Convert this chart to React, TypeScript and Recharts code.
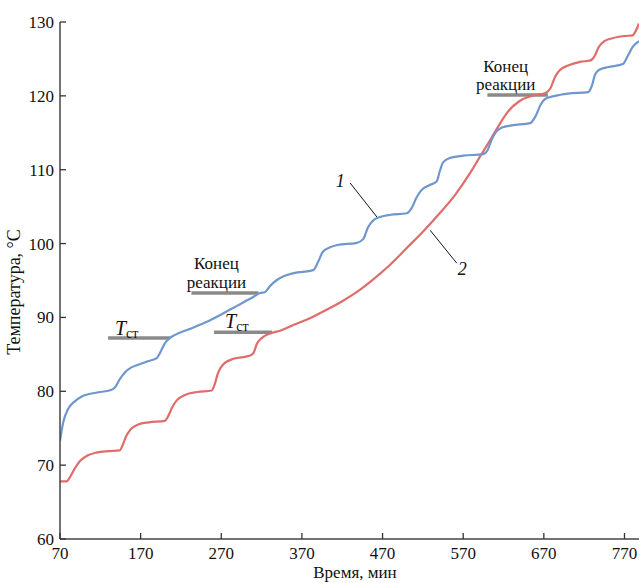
import React from 'react';
import { LineChart, Line, XAxis, YAxis, ReferenceLine, ReferenceDot, Label } from 'recharts';

// Curve 1 (blue)
const blueX = [70, 74, 80, 88, 97, 105, 120, 134, 138, 144, 151, 158, 167, 180, 190, 194, 200, 206, 212, 230, 250, 270, 290, 310, 318, 324, 330, 338, 348, 360, 384, 390, 396, 405, 414, 438, 446, 452, 458, 467, 480, 500, 506, 512, 518, 528, 537, 541, 545, 554, 570, 595, 600, 605, 610, 618, 630, 653, 660, 666, 672, 684, 700, 725, 729, 734, 740, 750, 768, 774, 780, 788];
const blueY = [73.3, 75.8, 77.6, 78.6, 79.3, 79.6, 79.9, 80.2, 80.5, 81.6, 82.6, 83.2, 83.6, 84.1, 84.5, 85.2, 86.5, 87.2, 87.6, 88.4, 89.3, 90.4, 91.6, 92.8, 93.3, 93.4, 94.2, 95.0, 95.6, 96.0, 96.4, 97.5, 98.9, 99.5, 99.8, 100.1, 100.6, 102.2, 103.1, 103.6, 103.9, 104.1, 104.8, 106.2, 107.2, 107.9, 108.4, 109.8, 111.0, 111.6, 111.9, 112.1, 112.6, 114.0, 115.0, 115.7, 116.0, 116.3, 117.3, 118.8, 119.6, 120.0, 120.3, 120.5, 121.2, 123.0, 123.6, 123.9, 124.3, 125.4, 126.6, 127.4];

// Curve 2 (red)
const redX = [70, 78, 82, 88, 95, 104, 115, 130, 144, 148, 152, 158, 167, 180, 200, 204, 209, 215, 225, 240, 258, 262, 266, 272, 285, 305, 310, 314, 320, 330, 343, 360, 380, 400, 420, 440, 460, 480, 500, 520, 540, 560, 580, 591, 600, 612, 625, 640, 655, 672, 678, 684, 690, 700, 715, 728, 733, 738, 745, 755, 770, 780, 784, 788];
const redY = [67.8, 67.8, 68.3, 69.5, 70.6, 71.3, 71.7, 71.9, 72.0, 72.8, 73.9, 74.9, 75.5, 75.8, 76.0, 76.6, 77.8, 78.8, 79.5, 79.9, 80.1, 81.0, 82.5, 83.6, 84.4, 84.8, 85.2, 86.4, 87.2, 87.8, 88.2, 89.0, 89.9, 91.0, 92.2, 93.6, 95.3, 97.2, 99.4, 101.6, 104.0, 106.6, 109.8, 111.8, 113.4, 115.6, 117.8, 119.3, 120.0, 120.4, 121.0, 122.6, 123.5, 124.1, 124.6, 124.8, 125.4, 126.6, 127.4, 127.8, 128.1, 128.2, 128.8, 129.8];

const xTicks = [70, 170, 270, 370, 470, 570, 670, 770];
const yTicks = [60, 70, 80, 90, 100, 110, 120, 130];

// Gray marker bars: [x1, x2, y]
const markerBars = [
  [129.6, 206.5, 87.2],
  [261, 333, 88.0],
  [233, 316, 93.3],
  [600, 675, 120.1],
];

// T_ст labels: [x, y(baseline)]
const tstLabels = [
  [138.2, 87.6],
  [274.7, 88.6],
];

// "Конец реакции" labels: [xCenter, yLine1, yLine2]
const endLabels = [
  [264, 96.5, 93.95],
  [622.7, 123.2, 120.75],
];

// Curve number labels: [text, x, y, leaderX1, leaderY1, leaderX2, leaderY2]
const curveLabels: [string, number, number, number, number, number, number][] = [
  ['1', 417.4, 107.66, 429.8, 108.2, 463, 103.6],
  ['2', 568.8, 95.7, 562, 97.35, 529, 101.8],
];

const blueData = blueX.map((x, i) => ({ x, y: blueY[i] }));
const redData = redX.map((x, i) => ({ x, y: redY[i] }));

const FONT = "'Liberation Serif', 'Times New Roman', serif";
const txt = { fontFamily: FONT, fill: '#111' };

const YTick = (props: any) => {
  const { x, y, payload } = props;
  return (
    <g>
      <line x1={x + 6} x2={x + 12} y1={y} y2={y} stroke="#333" strokeWidth={1.3} />
      <text x={x} y={y} dy="0.35em" textAnchor="end" style={{ ...txt, fontSize: 17 }}>
        {payload.value}
      </text>
    </g>
  );
};

const XTick = (props: any) => {
  const { x, y, payload } = props;
  return (
    <g>
      <line x1={x} x2={x} y1={y - 8} y2={y - 14} stroke="#333" strokeWidth={1.3} />
      <text x={x} y={y} dy="0.7em" textAnchor="middle" style={{ ...txt, fontSize: 17 }}>
        {payload.value}
      </text>
    </g>
  );
};

export default function App() {
  return (
    <div style={{ position: 'absolute', left: 0, top: 0, width: 639, height: 583, background: '#fff' }}>
      <LineChart width={639} height={583} margin={{ top: 22, right: 0, bottom: 0, left: 0 }}>
        <XAxis
          type="number"
          dataKey="x"
          domain={[70, 788]}
          ticks={xTicks}
          allowDataOverflow
          height={44}
          tickSize={0}
          tickMargin={8}
          tick={<XTick />}
          axisLine={{ stroke: '#444', strokeWidth: 1.5 }}
          tickLine={false}
        >
          <Label
            content={() => (
              <text x={355} y={578} textAnchor="middle" style={{ ...txt, fontSize: 17 }}>
                Время, мин
              </text>
            )}
          />
        </XAxis>
        <YAxis
          type="number"
          domain={[60, 130]}
          ticks={yTicks}
          allowDataOverflow
          width={60}
          tickSize={0}
          tickMargin={6}
          tick={<YTick />}
          axisLine={{ stroke: '#444', strokeWidth: 1.5 }}
          tickLine={false}
        >
          <Label
            content={() => (
              <text
                x={20}
                y={292}
                transform="rotate(-90 20 292)"
                textAnchor="middle"
                style={{ ...txt, fontSize: 18 }}
              >
                Температура, °C
              </text>
            )}
          />
        </YAxis>

        {markerBars.map((b, i) => (
          <ReferenceLine
            key={'bar' + i}
            segment={[{ x: b[0], y: b[2] }, { x: b[1], y: b[2] }]}
            stroke="#8a8a8a"
            strokeWidth={3.5}
            ifOverflow="visible"
          />
        ))}

        {curveLabels.map((c, i) => (
          <ReferenceLine
            key={'lead' + i}
            segment={[{ x: c[3], y: c[4] }, { x: c[5], y: c[6] }]}
            stroke="#111"
            strokeWidth={1}
            ifOverflow="visible"
          />
        ))}

        <Line
          data={redData}
          dataKey="y"
          type="monotone"
          stroke="#e06c6c"
          strokeWidth={2.2}
          dot={false}
          isAnimationActive={false}
        />
        <Line
          data={blueData}
          dataKey="y"
          type="monotone"
          stroke="#6f97cd"
          strokeWidth={2.2}
          dot={false}
          isAnimationActive={false}
        />

        {tstLabels.map((t, i) => (
          <ReferenceDot
            key={'tst' + i}
            x={t[0]}
            y={t[1]}
            r={0}
            ifOverflow="visible"
            shape={(p: any) => (
              <text x={p.cx} y={p.cy} style={txt}>
                <tspan style={{ fontSize: 20, fontStyle: 'italic' }}>T</tspan>
                <tspan style={{ fontSize: 14 }} dy={3}>ст</tspan>
              </text>
            )}
          />
        ))}

        {endLabels.map((t, i) => (
          <ReferenceDot
            key={'end1' + i}
            x={t[0]}
            y={t[1]}
            r={0}
            ifOverflow="visible"
            shape={(p: any) => (
              <text x={p.cx} y={p.cy} textAnchor="middle" style={{ ...txt, fontSize: 17 }}>
                Конец
              </text>
            )}
          />
        ))}
        {endLabels.map((t, i) => (
          <ReferenceDot
            key={'end2' + i}
            x={t[0]}
            y={t[2]}
            r={0}
            ifOverflow="visible"
            shape={(p: any) => (
              <text x={p.cx} y={p.cy} textAnchor="middle" style={{ ...txt, fontSize: 17 }}>
                реакции
              </text>
            )}
          />
        ))}

        {curveLabels.map((c, i) => (
          <ReferenceDot
            key={'num' + i}
            x={c[1]}
            y={c[2]}
            r={0}
            ifOverflow="visible"
            shape={(p: any) => (
              <text x={p.cx} y={p.cy} textAnchor="middle" style={{ ...txt, fontSize: 18, fontStyle: 'italic' }}>
                {c[0]}
              </text>
            )}
          />
        ))}
      </LineChart>
    </div>
  );
}
